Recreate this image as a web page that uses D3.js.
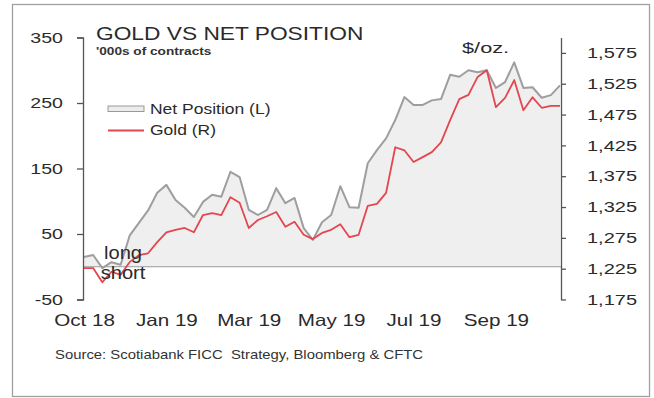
<!DOCTYPE html>
<html>
<head>
<meta charset="utf-8">
<script src="https://cdn.jsdelivr.net/npm/d3@7"></script>
<style>
  html, body { margin: 0; padding: 0; background: #fff; }
  svg { display: block; font-family: "Liberation Sans", Arial, Helvetica, sans-serif; }
  svg text { white-space: pre; }
</style>
</head>
<body>
<svg id="chart" width="654" height="398"></svg>
<script>
// Weekly CFTC reporting dates (Tuesdays), Oct 30 2018 - Oct 29 2019
const weeks = d3.timeTuesday.range(new Date(2018, 9, 30), new Date(2019, 9, 30));

// Net speculative position, '000s of contracts (left axis)
const netPosition = [
  15, 18, -2, 7, 3, 48, 67, 86, 113, 125,
  102, 90, 76, 99, 110, 107, 145, 137, 87, 79,
  87, 120, 97, 105, 59, 41, 68, 79, 123, 91,
  90, 158, 178, 196, 224, 259, 247, 247, 254, 256,
  293, 290, 300, 297, 300, 273, 282, 312, 273, 274,
  258, 262, 277
];

// Gold spot, $/oz. (right axis)
const gold = [
  1226, 1226, 1203, 1220, 1215, 1236, 1247, 1250, 1268, 1284,
  1288, 1291, 1284, 1312, 1315, 1312, 1341, 1332, 1291, 1304,
  1310, 1317, 1293, 1301, 1280, 1273, 1283, 1288, 1297, 1276,
  1280, 1327, 1330, 1348, 1422, 1417, 1398, 1406, 1414, 1430,
  1466, 1500, 1507, 1536, 1547, 1487, 1502, 1531, 1482, 1503,
  1486, 1489, 1489
];

const leftTicks = [-50, 50, 150, 250, 350];
const rightTicks = [1175, 1225, 1275, 1325, 1375, 1425, 1475, 1525, 1575];
const xTickDates = ["2018-10-30", "2019-01-01", "2019-03-05", "2019-05-07", "2019-07-09", "2019-09-10"];

const rows = weeks.map((d, i) => ({ date: d, net: netPosition[i], gold: gold[i] }));

const svg = d3.select("#chart");
const parse = d3.timeParse("%Y-%m-%d");

const x = d3.scaleTime().domain(d3.extent(weeks)).range([84, 560]);
const yL = d3.scaleLinear().domain([-50, 350]).range([299.5, 37.5]);
const yR = d3.scaleLinear().domain([1175, 1600]).range([299.5, 37.5]);

// horizontally widened text, anchored at (x, y)
function label(txt, px, py, size, sx, opts = {}) {
  return svg.append("text")
    .attr("transform", `translate(${px},${py}) scale(${sx},1)`)
    .attr("font-size", size)
    .attr("font-weight", opts.weight || "normal")
    .attr("text-anchor", opts.anchor || "start")
    .attr("fill", opts.fill || "#2a2a2a")
    .text(txt);
}
function stretch(sel, sx) {
  sel.each(function () {
    const t = d3.select(this);
    const tx = +t.attr("x") || 0;
    t.attr("x", tx / sx).attr("transform", `scale(${sx},1)`);
  });
}

// frame
svg.append("rect")
  .attr("x", 12.5).attr("y", 4.5).attr("width", 637).attr("height", 392)
  .attr("fill", "none").attr("stroke", "#a0a0a0").attr("stroke-width", 1.3);

// net position area down to zero
svg.append("path")
  .datum(rows)
  .attr("fill", "#efefef")
  .attr("d", d3.area().x(d => x(d.date)).y0(yL(0)).y1(d => yL(d.net)));

// zero line (long / short divide)
svg.append("line")
  .attr("x1", 83).attr("x2", 561)
  .attr("y1", yL(0)).attr("y2", yL(0))
  .attr("stroke", "#9a9a9a").attr("stroke-width", 1);

svg.append("path")
  .datum(rows)
  .attr("fill", "none")
  .attr("stroke", "#9e9e9e")
  .attr("stroke-width", 2)
  .attr("stroke-linejoin", "round")
  .attr("d", d3.line().x(d => x(d.date)).y(d => yL(d.net)));

svg.append("path")
  .datum(rows)
  .attr("fill", "none")
  .attr("stroke", "#e4464f")
  .attr("stroke-width", 1.8)
  .attr("stroke-linejoin", "round")
  .attr("d", d3.line().x(d => x(d.date)).y(d => yR(d.gold)));

// left axis
const gL = svg.append("g").attr("transform", "translate(83,0)")
  .call(d3.axisLeft(yL).tickValues(leftTicks).tickSize(6).tickSizeOuter(6).tickPadding(14)
    .tickFormat(d => String(d)));
// right axis
const gR = svg.append("g").attr("transform", "translate(561,0)")
  .call(d3.axisRight(yR).tickValues(rightTicks).tickSize(5).tickSizeOuter(0).tickPadding(21)
    .tickFormat(d3.format(",")));
// bottom labels
const fmtMonth = d3.timeFormat("%b %y");
const gX = svg.append("g").attr("transform", "translate(0,305)")
  .call(d3.axisBottom(x).tickValues(xTickDates.map(parse)).tickSize(0).tickPadding(9)
    .tickFormat(fmtMonth));
gX.select(".domain").remove();

[gL, gR].forEach(g => {
  g.select(".domain").attr("stroke", "#555").attr("stroke-width", 1.3);
  g.selectAll(".tick line").attr("stroke", "#555").attr("stroke-width", 1.3);
});
[gL, gR, gX].forEach(g => g.attr("font-family", null));
gL.selectAll(".tick text").attr("font-size", 14.5).attr("fill", "#2a2a2a").call(stretch, 1.35);
gR.selectAll(".tick text").attr("font-size", 14.5).attr("fill", "#2a2a2a").call(stretch, 1.38);
gX.selectAll(".tick text").attr("font-size", 16.5).attr("fill", "#2a2a2a").call(stretch, 1.25);

// titles
label("GOLD VS NET POSITION", 96, 40, 17.5, 1.3);
label("'000s of contracts", 96, 55, 10.5, 1.3, { weight: "bold", fill: "#333" });
label("$/oz.", 462, 53, 15, 1.45);

// legend
svg.append("rect")
  .attr("x", 108).attr("y", 106).attr("width", 36).attr("height", 5.5)
  .attr("fill", "#ececec").attr("stroke", "#999").attr("stroke-width", 1);
svg.append("line")
  .attr("x1", 108).attr("x2", 144).attr("y1", 130.5).attr("y2", 130.5)
  .attr("stroke", "#e4464f").attr("stroke-width", 1.8);
label("Net Position (L)", 150, 113.5, 14, 1.25);
label("Gold (R)", 150, 135, 14, 1.25);

// long / short markers
label("long", 123, 259, 17.5, 1.15, { anchor: "middle" });
label("short", 123, 279, 17.5, 1.15, { anchor: "middle" });

// source
label("Source: Scotiabank FICC  Strategy, Bloomberg & CFTC", 55, 359, 12, 1.24, { fill: "#333" });
</script>
</body>
</html>
